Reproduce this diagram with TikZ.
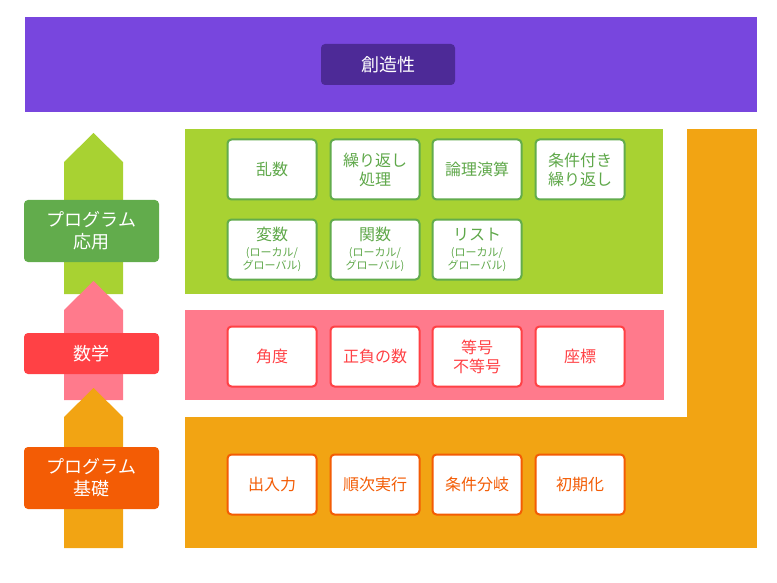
\documentclass[tikz,border=0pt]{standalone}
\usepackage{fontspec}
\setmainfont{Noto Sans CJK JP}
\definecolor{cpurple}{HTML}{7846DE}
\definecolor{cdpurple}{HTML}{4D2A97}
\definecolor{cgreen}{HTML}{A8D232}
\definecolor{cdgreen}{HTML}{62AC4C}
\definecolor{cgtext}{HTML}{5FA84A}
\definecolor{cpink}{HTML}{FF7A8C}
\definecolor{cred}{HTML}{FF4145}
\definecolor{corange}{HTML}{F2A413}
\definecolor{cdorange}{HTML}{F35C05}
\newcommand{\smalltxt}{\fontsize{11}{13}\selectfont}
\begin{document}
\begin{tikzpicture}[x=1pt,y=-1pt,
  lbl/.style={rounded corners=4pt, minimum width=135pt, text=white, align=center,
    font=\fontsize{18}{22}\selectfont, inner sep=0pt},
  boxbase/.style={rounded corners=4pt, fill=white, line width=2pt, minimum width=89pt,
    minimum height=60pt, align=center, inner sep=0pt, font=\fontsize{16}{19}\selectfont},
  gbox/.style={boxbase, draw=cdgreen, text=cgtext},
  pbox/.style={boxbase, draw=cred, text=cred},
  obox/.style={boxbase, draw=cdorange, text=cdorange}]
\useasboundingbox (0,0) rectangle (777,583);
% top bar
\fill[cpurple] (25,17) rectangle (757,112);
\node[lbl, fill=cdpurple, minimum width=134pt, minimum height=41pt] (top) at (388,64.5) {創造性};
% panels
\fill[cgreen] (185,129) rectangle (663,294);
\fill[cpink] (185,310) rectangle (664,400);
\fill[corange] (185,417) rectangle (757,548);
\fill[corange] (687,129) rectangle (757,548);
% arrows
\fill[cgreen] (64,294) -- (64,162) -- (93.5,133) -- (123,162) -- (123,294) -- cycle;
\fill[cpink] (64,400) -- (64,310) -- (93.5,281) -- (123,310) -- (123,400) -- cycle;
\fill[corange] (64,548) -- (64,417) -- (93.5,388) -- (123,417) -- (123,548) -- cycle;
% labels
\node[lbl, fill=cdgreen, minimum height=62pt] (lapp) at (91.5,231) {プログラム\\応用};
\node[lbl, fill=cred, minimum height=41pt] (lmath) at (91.5,353.5) {数学};
\node[lbl, fill=cdorange, minimum height=62pt] (lbase) at (91.5,478) {プログラム\\基礎};
% green boxes
\node[gbox] (g1) at (272,169.5) {乱数};
\node[gbox] (g2) at (375,169.5) {繰り返し\\処理};
\node[gbox] (g3) at (477,169.5) {論理演算};
\node[gbox] (g4) at (580,169.5) {条件付き\\繰り返し};
\node[gbox] (g5) at (272,249.5) {変数\\[-3pt]\smalltxt (ローカル/\\[-6pt]\smalltxt グローバル)};
\node[gbox] (g6) at (375,249.5) {関数\\[-3pt]\smalltxt (ローカル/\\[-6pt]\smalltxt グローバル)};
\node[gbox] (g7) at (477,249.5) {リスト\\[-3pt]\smalltxt (ローカル/\\[-6pt]\smalltxt グローバル)};
% pink boxes
\node[pbox] (p1) at (272,356.5) {角度};
\node[pbox] (p2) at (375,356.5) {正負の数};
\node[pbox] (p3) at (477,356.5) {等号\\不等号};
\node[pbox] (p4) at (580,356.5) {座標};
% orange boxes
\node[obox] (o1) at (272,484.5) {出入力};
\node[obox] (o2) at (375,484.5) {順次実行};
\node[obox] (o3) at (477,484.5) {条件分岐};
\node[obox] (o4) at (580,484.5) {初期化};
\end{tikzpicture}
\end{document}
